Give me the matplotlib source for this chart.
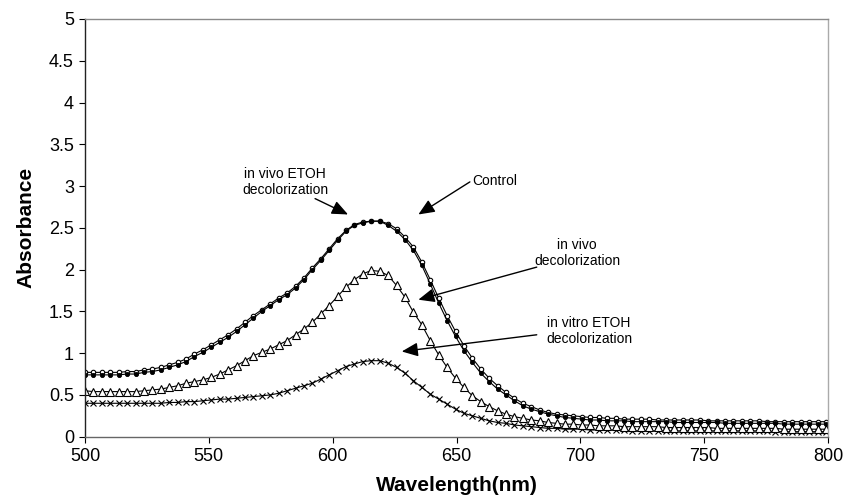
import numpy as np
import matplotlib
matplotlib.use('Agg')
import matplotlib.pyplot as plt

plt.rcParams['font.family'] = ['Liberation Sans', 'DejaVu Sans']

# wavelength grid (nm), one point every 3.4 nm
wavelength = 500 + 3.4 * np.arange(89)

control = [0.74, 0.74, 0.74, 0.74, 0.74, 0.75, 0.75, 0.77, 0.78, 0.80,
           0.83, 0.86, 0.90, 0.96, 1.01, 1.07, 1.13, 1.19, 1.26, 1.34,
           1.42, 1.50, 1.57, 1.64, 1.70, 1.78, 1.88, 2.00, 2.11, 2.23,
           2.35, 2.46, 2.53, 2.56, 2.58, 2.58, 2.53, 2.46, 2.36, 2.23,
           2.05, 1.83, 1.60, 1.39, 1.20, 1.03, 0.89, 0.76, 0.66, 0.57,
           0.50, 0.43, 0.37, 0.33, 0.30, 0.27, 0.25, 0.23, 0.22, 0.21,
           0.20, 0.20, 0.19, 0.19, 0.19, 0.18, 0.18, 0.18, 0.18, 0.18,
           0.17, 0.17, 0.17, 0.17, 0.17, 0.17, 0.16, 0.16, 0.16, 0.16,
           0.16, 0.16, 0.16, 0.15, 0.15, 0.15, 0.15, 0.15, 0.15]

in_vivo_etoh = [0.77, 0.77, 0.77, 0.77, 0.77, 0.78, 0.78, 0.80, 0.81, 0.83,
                0.86, 0.89, 0.93, 0.99, 1.04, 1.10, 1.16, 1.22, 1.29, 1.37,
                1.45, 1.52, 1.59, 1.66, 1.72, 1.80, 1.90, 2.02, 2.13, 2.25,
                2.37, 2.47, 2.54, 2.57, 2.58, 2.58, 2.55, 2.49, 2.39, 2.27,
                2.09, 1.88, 1.66, 1.45, 1.26, 1.09, 0.94, 0.81, 0.70, 0.61,
                0.53, 0.46, 0.40, 0.36, 0.32, 0.29, 0.27, 0.26, 0.25, 0.24,
                0.23, 0.23, 0.22, 0.22, 0.21, 0.21, 0.21, 0.21, 0.20, 0.20,
                0.20, 0.20, 0.20, 0.20, 0.19, 0.19, 0.19, 0.19, 0.19, 0.19,
                0.19, 0.18, 0.18, 0.18, 0.18, 0.18, 0.18, 0.18, 0.18]

in_vivo = [0.55, 0.54, 0.54, 0.54, 0.54, 0.54, 0.54, 0.55, 0.56, 0.57,
           0.59, 0.61, 0.64, 0.66, 0.68, 0.71, 0.75, 0.80, 0.85, 0.91,
           0.97, 1.01, 1.05, 1.10, 1.15, 1.22, 1.29, 1.37, 1.47, 1.57,
           1.68, 1.79, 1.88, 1.95, 1.99, 1.98, 1.93, 1.81, 1.67, 1.49,
           1.34, 1.15, 0.98, 0.83, 0.70, 0.59, 0.49, 0.42, 0.36, 0.31,
           0.27, 0.24, 0.22, 0.20, 0.19, 0.17, 0.16, 0.15, 0.15, 0.14,
           0.14, 0.13, 0.13, 0.13, 0.12, 0.12, 0.12, 0.12, 0.12, 0.11,
           0.11, 0.11, 0.11, 0.11, 0.11, 0.10, 0.10, 0.10, 0.10, 0.10,
           0.10, 0.10, 0.10, 0.09, 0.09, 0.09, 0.09, 0.09, 0.09]

in_vitro_etoh = [0.40, 0.40, 0.40, 0.40, 0.40, 0.40, 0.40, 0.40, 0.40, 0.40,
                 0.41, 0.41, 0.42, 0.42, 0.43, 0.44, 0.45, 0.45, 0.46, 0.47,
                 0.48, 0.49, 0.50, 0.52, 0.55, 0.58, 0.61, 0.64, 0.69, 0.74,
                 0.79, 0.84, 0.87, 0.90, 0.91, 0.91, 0.88, 0.83, 0.76, 0.67,
                 0.59, 0.51, 0.45, 0.39, 0.33, 0.28, 0.25, 0.22, 0.19, 0.17,
                 0.16, 0.14, 0.13, 0.12, 0.11, 0.10, 0.10, 0.09, 0.09, 0.09,
                 0.08, 0.08, 0.08, 0.08, 0.08, 0.07, 0.07, 0.07, 0.07, 0.07,
                 0.07, 0.07, 0.07, 0.07, 0.07, 0.07, 0.07, 0.07, 0.07, 0.07,
                 0.07, 0.07, 0.06, 0.06, 0.06, 0.06, 0.06, 0.06, 0.06]

x_ticks = [500, 550, 600, 650, 700, 750, 800]
y_ticks = [0, 0.5, 1, 1.5, 2, 2.5, 3, 3.5, 4, 4.5, 5]
y_tick_labels = ['0', '0.5', '1', '1.5', '2', '2.5', '3', '3.5', '4', '4.5', '5']

fig = plt.figure(figsize=(8.56, 5), dpi=100)
ax = fig.add_axes([85 / 856, 63.3 / 500, 743 / 856, 417.7 / 500])

lw = 0.8
ax.plot(wavelength, in_vitro_etoh, color='black', lw=lw, marker='x',
        ms=5, mew=0.8)
ax.plot(wavelength, in_vivo, color='black', lw=lw, marker='^',
        ms=5.5, mfc='white', mew=0.8)
ax.plot(wavelength, in_vivo_etoh, color='black', lw=lw, marker='o',
        ms=3.2, mfc='white', mew=0.8)
ax.plot(wavelength, control, color='black', lw=lw, marker='o',
        ms=3, mfc='black', mew=0.6)

ax.set_xlim(500, 800)
ax.set_ylim(0, 5)
ax.set_xticks(x_ticks)
ax.set_yticks(y_ticks)
ax.set_yticklabels(y_tick_labels)
ax.tick_params(labelsize=13, length=4, width=0.8, pad=4, direction='out')

ax.spines['left'].set_color('#222222')
ax.spines['bottom'].set_color('#666666')
ax.spines['top'].set_color('#8a8a8a')
ax.spines['right'].set_color('#aaaaaa')
for s in ax.spines.values():
    s.set_linewidth(1.0)

ax.set_xlabel('Wavelength(nm)', fontsize=15, fontweight='bold', labelpad=8)
ax.set_ylabel('Absorbance', fontsize=15, fontweight='bold', labelpad=10)

# annotations: text + arrows
arr = dict(arrowstyle='-|>,head_length=0.7,head_width=0.3', color='black',
           lw=1.0, mutation_scale=14, shrinkA=0, shrinkB=0)
tfs = 10

ax.text(580.8, 3.05, 'in vivo ETOH\ndecolorization', fontsize=tfs,
        ha='center', va='center', linespacing=1.2)
ax.annotate('', xy=(606.2, 2.66), xytext=(592.9, 2.85), arrowprops=arr)

ax.text(656.2, 3.06, 'Control', fontsize=tfs, ha='left', va='center')
ax.annotate('', xy=(634.6, 2.66), xytext=(655.4, 3.05), arrowprops=arr)

ax.text(698.7, 2.20, 'in vivo\ndecolorization', fontsize=tfs,
        ha='center', va='center', linespacing=1.2)
ax.annotate('', xy=(634.6, 1.64), xytext=(682.4, 2.03), arrowprops=arr)

ax.text(703.5, 1.27, 'in vitro ETOH\ndecolorization', fontsize=tfs,
        ha='center', va='center', linespacing=1.2)
ax.annotate('', xy=(627.9, 1.02), xytext=(682.4, 1.22), arrowprops=arr)

plt.savefig('out.png', dpi=100)
